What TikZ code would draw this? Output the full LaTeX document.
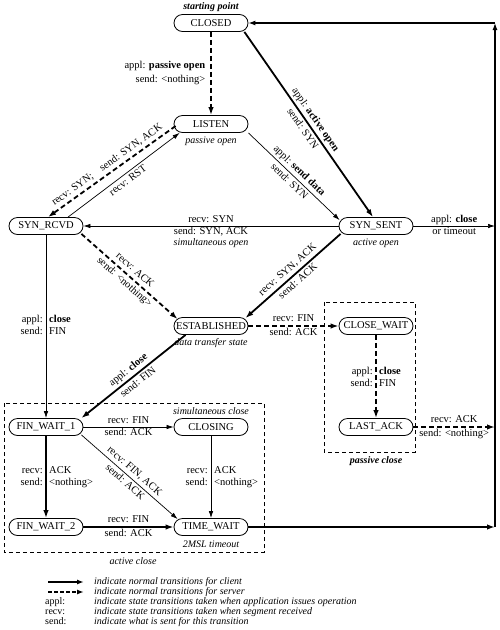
\documentclass[tikz,border=0pt]{standalone}
\usepackage{fontspec}
\setmainfont{Liberation Serif}
\usetikzlibrary{arrows.meta,calc}
\begin{document}
\begin{tikzpicture}[x=1pt,y=-1pt,
  state/.style={draw,line width=0.8pt,rounded corners=8.5pt,minimum width=74pt,minimum height=17pt,inner sep=1pt,font=\fontsize{10.5}{12}\selectfont},
  lbl/.style={font=\fontsize{10.5}{12}\selectfont,inner sep=1.5pt,text height=7pt,text depth=2pt},
  slbl/.style={lbl,inner sep=2.5pt},
  vlbl/.style={lbl,inner sep=3pt},
  note/.style={font=\fontsize{10}{12}\selectfont\itshape,inner sep=0pt},
  leg/.style={font=\fontsize{10}{11}\selectfont,inner sep=0pt,text height=6.5pt,text depth=2pt,anchor=west},
  legi/.style={leg,font=\fontsize{10}{11}\selectfont\itshape},
  norm/.style={line width=0.7pt,-{Latex[length=7pt,width=4.5pt]}},
  client/.style={line width=1.8pt,-{Latex[length=8pt,width=5.5pt]}},
  server/.style={line width=1.8pt,dash pattern=on 5pt off 3pt,-{Latex[length=8pt,width=5.5pt]}},
  ret/.style={line width=1.2pt,-{Latex[length=7pt,width=5pt]}},
  dbox/.style={line width=0.8pt,dash pattern=on 4pt off 3pt}
]
\useasboundingbox (0,0) rectangle (500,630);

% dashed boxes
\draw[dbox] (4,403) rectangle (264,552);
\draw[dbox] (324,302) rectangle (415,452);

% states
\node[state] (closed) at (211,23) {CLOSED};
\node[state] (listen) at (211,124) {LISTEN};
\node[state] (synrcvd) at (46,226) {SYN\_RCVD};
\node[state] (synsent) at (376,226) {SYN\_SENT};
\node[state] (estab) at (211,326) {ESTABLISHED};
\node[state] (closewait) at (376,326) {CLOSE\_WAIT};
\node[state] (lastack) at (376,427) {LAST\_ACK};
\node[state] (fw1) at (46,427) {FIN\_WAIT\_1};
\node[state] (closing) at (211,427) {CLOSING};
\node[state] (fw2) at (46,527) {FIN\_WAIT\_2};
\node[state] (tw) at (211,527) {TIME\_WAIT};

% notes
\node[note] (nstart) at (211,7) {\bfseries starting point};
\node[note] (npo) at (211,141) {passive open};
\node[note] (nao) at (376,243) {active open};
\node[note] (nso) at (211,243) {simultaneous open};
\node[note] (ndt) at (211,343) {data transfer state};
\node[note] (nsc) at (211,411) {simultaneous close};
\node[note] (n2m) at (211,544) {2MSL timeout};
\node[note] (nac) at (133,561) {active close};
\node[note] (npc) at (376,461) {\bfseries passive close};

% right-hand return line
\coordinate (rtop) at (495,23);
\coordinate (r1) at (495,226);
\coordinate (r2) at (495,427);
\coordinate (r3) at (495,527);
\draw[ret] (r3) -- (rtop);
\draw[ret] (rtop) -- (closed);

% CLOSED -> LISTEN
\draw[server] (closed) -- (listen);
\node[lbl,anchor=east] (l1a) at (207,66) {appl: \textbf{passive open}};
\node[lbl,anchor=east] (l1b) at (207,80) {send: <nothing>};

% CLOSED -> SYN_SENT
\draw[client] ($(closed.south east)+(-4,0)$) -- ($(synsent.north)+(-3,0)$)
  node[midway,sloped,above,slbl] {appl: \textbf{active open}}
  node[midway,sloped,below,slbl] {send: SYN};

% LISTEN -> SYN_SENT
\draw[norm] (listen.south east) -- ($(synsent.north west)+(1,3)$)
  node[midway,sloped,above,slbl] {appl: \textbf{send data}}
  node[midway,sloped,below,slbl] {send: SYN};

% LISTEN -> SYN_RCVD
\draw[server] ($(listen.west)+(2,2)$) -- ($(synrcvd.north)+(2,0)$)
  node[midway,sloped,above,slbl] {recv: SYN;\quad send: SYN, ACK};

% SYN_RCVD -> LISTEN
\draw[norm] ($(synrcvd.north)+(22,0)$) -- ($(listen.south west)+(6,0)$)
  node[midway,sloped,below,slbl] {recv: RST};

% SYN_SENT -> SYN_RCVD
\draw[norm] (synsent) -- (synrcvd)
  node[midway,above,lbl] {recv: SYN}
  node[midway,below,lbl] {send: SYN, ACK};

% SYN_SENT -> right
\draw[norm] (synsent) -- (r1)
  node[midway,above,lbl] {appl: \textbf{close}}
  node[midway,below,lbl] {or timeout};

% SYN_RCVD -> ESTABLISHED
\draw[server] ($(synrcvd.south east)+(-2,-1)$) -- ($(estab.north west)+(4,2)$)
  node[midway,sloped,above,slbl] {recv: ACK}
  node[midway,sloped,below,slbl] {send: <nothing>};

% SYN_SENT -> ESTABLISHED
\draw[client] ($(synsent.south west)+(2,-1)$) -- ($(estab.north east)+(-3,1)$)
  node[midway,sloped,above,slbl] {recv: SYN, ACK}
  node[midway,sloped,below,slbl] {send: ACK};

% SYN_RCVD -> FIN_WAIT_1
\draw[norm] (synrcvd) -- (fw1);
\node[vlbl,anchor=east] (l9a) at (46,320) {appl:};
\node[vlbl,anchor=west] (l9b) at (46,320) {\textbf{close}};
\node[vlbl,anchor=east] (l9c) at (46,332) {send:};
\node[vlbl,anchor=west] (l9d) at (46,332) {FIN};

% ESTABLISHED -> CLOSE_WAIT
\draw[server] (estab) -- (closewait)
  node[midway,above,lbl] {recv: FIN}
  node[midway,below,lbl] {send: ACK};

% ESTABLISHED -> FIN_WAIT_1
\draw[client] ($(estab.south west)+(12,0)$) -- ($(fw1.north east)+(-2,0)$)
  node[midway,sloped,above,slbl] {appl: \textbf{close}}
  node[midway,sloped,below,slbl] {send: FIN};

% CLOSE_WAIT -> LAST_ACK
\draw[server] (closewait) -- (lastack);
\node[vlbl,anchor=east] (l12a) at (376,372) {appl:};
\node[vlbl,anchor=west] (l12b) at (376,372) {\textbf{close}};
\node[vlbl,anchor=east] (l12c) at (376,384) {send:};
\node[vlbl,anchor=west] (l12d) at (376,384) {FIN};

% LAST_ACK -> right
\draw[server] (lastack) -- (r2)
  node[midway,above,lbl] {recv: ACK}
  node[midway,below,lbl] {send: <nothing>};

% FIN_WAIT_1 -> CLOSING
\draw[norm] (fw1) -- (closing)
  node[midway,above,lbl] {recv: FIN}
  node[midway,below,lbl] {send: ACK};

% FIN_WAIT_1 -> FIN_WAIT_2
\draw[client] (fw1) -- (fw2);
\node[vlbl,anchor=east] (l14a) at (46,471) {recv:};
\node[vlbl,anchor=west] (l14b) at (46,471) {ACK};
\node[vlbl,anchor=east] (l14c) at (46,483) {send:};
\node[vlbl,anchor=west] (l14d) at (46,483) {<nothing>};

% FIN_WAIT_1 -> TIME_WAIT
\draw[norm] ($(fw1.south east)+(-2,-1)$) -- ($(tw.north west)+(4,1)$)
  node[midway,sloped,above,slbl] {recv: FIN, ACK}
  node[midway,sloped,below,slbl] {send: ACK};

% CLOSING -> TIME_WAIT
\draw[norm] (closing) -- (tw);
\node[vlbl,anchor=east] (l16a) at (211,471) {recv:};
\node[vlbl,anchor=west] (l16b) at (211,471) {ACK};
\node[vlbl,anchor=east] (l16c) at (211,483) {send:};
\node[vlbl,anchor=west] (l16d) at (211,483) {<nothing>};

% FIN_WAIT_2 -> TIME_WAIT
\draw[client] (fw2) -- (tw)
  node[midway,above,lbl] {recv: FIN}
  node[midway,below,lbl] {send: ACK};

% TIME_WAIT -> right
\draw[client] (tw) -- (r3);

% legend
\coordinate (lg1a) at (48,582); \coordinate (lg1b) at (84,582);
\coordinate (lg2a) at (48,592); \coordinate (lg2b) at (84,592);
\draw[line width=1.6pt,-{Latex[length=7pt,width=5pt]}] (lg1a) -- (lg1b);
\draw[line width=1.6pt,dash pattern=on 4pt off 2pt,-{Latex[length=7pt,width=5pt]}] (lg2a) -- (lg2b);
\node[leg] (k3) at (45,602) {appl:};
\node[leg] (k4) at (45,612) {recv:};
\node[leg] (k5) at (45,622) {send:};
\node[legi] (t1) at (94,582) {indicate normal transitions for client};
\node[legi] (t2) at (94,592) {indicate normal transitions for server};
\node[legi] (t3) at (94,602) {indicate state transitions taken when application issues operation};
\node[legi] (t4) at (94,612) {indicate state transitions taken when segment received};
\node[legi] (t5) at (94,622) {indicate what is sent for this transition};
\end{tikzpicture}
\end{document}
